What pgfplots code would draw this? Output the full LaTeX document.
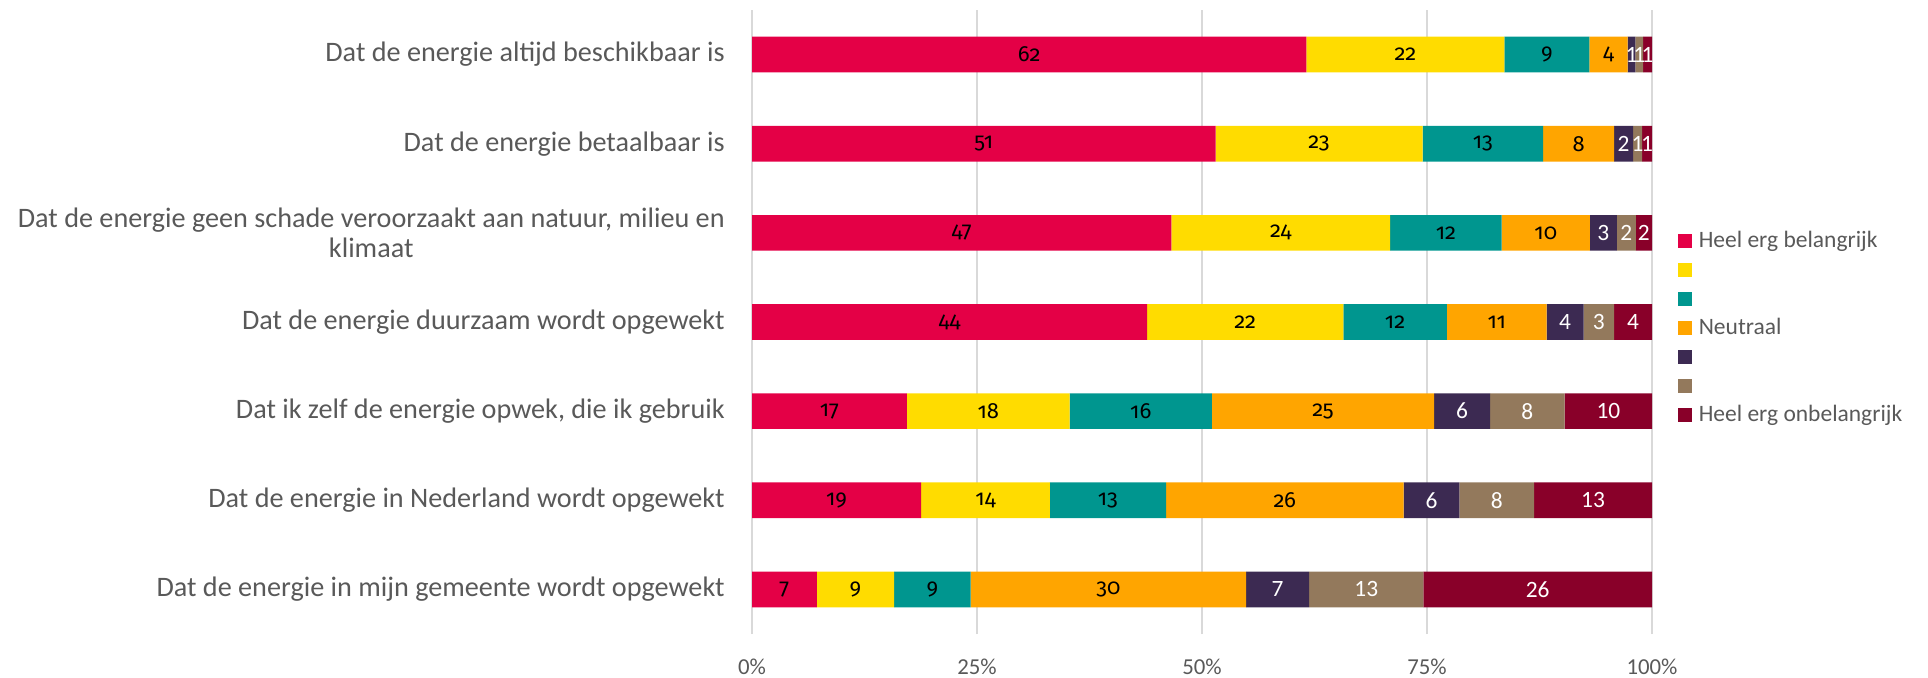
\documentclass[border=0pt]{standalone}
\usepackage{pgfplots}
\pgfplotsset{compat=1.18}
\usepackage{pgfplotstable}
\usepackage{fontspec}
\setmainfont{Carlito}
\newfontfamily\oldfig{Fira Sans}[Numbers=OldStyle]
\definecolor{c1}{RGB}{228,0,70}
\definecolor{c2}{RGB}{255,220,0}
\definecolor{c3}{RGB}{0,150,143}
\definecolor{c4}{RGB}{255,165,0}
\definecolor{c5}{RGB}{60,42,82}
\definecolor{c6}{RGB}{147,121,92}
\definecolor{c7}{RGB}{137,0,41}
\definecolor{textgray}{RGB}{89,89,89}
\definecolor{gridgray}{RGB}{217,217,217}
\pgfplotsset{sqleg/.style={legend image code/.code={\fill[##1] (0bp,-3.35bp) rectangle (6.7bp,3.35bp);}}}

% bar segments (percent of respondents), rows bottom to top
\pgfplotstableread{
y  a     b     c     d     e     f     g
0  7.2   8.6   8.5   30.6  7.0   12.7  25.4
1  18.8  14.3  12.9  26.4  6.2   8.3   13.1
2  17.2  18.1  15.8  24.7  6.2   8.3   9.7
3  43.9  21.8  11.5  11.1  4.1   3.4   4.2
4  46.6  24.3  12.4  9.8   3.0   2.1   1.8
5  51.5  23.0  13.4  7.9   2.1   1.0   1.1
6  61.6  22.0  9.45  4.25  0.85  0.85  1.0
}\datatable

% label positions (segment midpoints) and shown values
\pgfplotstableread{
x      y  lab
3.6    0  7
11.5   0  9
20.05  0  9
39.6   0  30
9.4    1  19
25.95  1  14
39.55  1  13
59.2   1  26
8.6    2  17
26.25  2  18
43.2   2  16
63.45  2  25
21.95  3  44
54.8   3  22
71.45  3  12
82.75  3  11
23.3   4  47
58.75  4  24
77.1   4  12
88.2   4  10
25.75  5  51
63.0   5  23
81.2   5  13
91.85  5  8
30.8   6  62
72.6   6  22
88.325 6  9
95.175 6  4
}\darklabels
\pgfplotstableread{
x      y  lab
58.4   0  7
68.25  0  13
87.3   0  26
75.5   1  6
82.75  1  8
93.45  1  13
78.9   2  6
86.15  2  8
95.15  2  10
90.35  3  4
94.1   3  3
97.9   3  4
94.6   4  3
97.15  4  2
99.1   4  2
96.85  5  2
98.4   5  1
99.45  5  1
97.725 6  1
98.575 6  1
99.5   6  1
}\lightlabels

\begin{document}
\begin{tikzpicture}
\path[use as bounding box] (0,0) rectangle (964bp,339bp);
\begin{axis}[
  at={(376bp,22bp)}, anchor=south west,
  scale only axis, width=450bp, height=312bp,
  xbar stacked, bar width=17.85bp,
  xmin=0, xmax=100, ymin=-0.5, ymax=6.5,
  xtick={0,25,50,75,100},
  xticklabels={0\%,25\%,50\%,75\%,100\%},
  ytick={0,1,2,3,4,5,6},
  yticklabels={
    Dat de energie in mijn gemeente wordt opgewekt,
    Dat de energie in Nederland wordt opgewekt,
    {Dat ik zelf de energie opwek, die ik gebruik},
    Dat de energie duurzaam wordt opgewekt,
    {Dat de energie geen schade veroorzaakt aan natuur, milieu en\\klimaat},
    Dat de energie betaalbaar is,
    Dat de energie altijd beschikbaar is},
  xmajorgrids, grid style={draw=gridgray, line width=1bp},
  axis line style={draw=none}, major tick length=0pt, tick style={draw=none},
  xticklabel style={font=\fontsize{11.4bp}{13bp}\selectfont, text=textgray, anchor=base, yshift=-20bp},
  yticklabel style={font=\fontsize{14.1bp}{14.8bp}\selectfont, text=textgray, align=center, anchor=east, inner xsep=0pt, xshift=-13.5bp},
  legend style={at={(1,0.5)}, anchor=west, xshift=13bp, yshift=-3bp, draw=none, fill=none,
    inner sep=0pt, row sep=0pt, font=\fontsize{11.75bp}{14bp}\selectfont, text=textgray,
    nodes={inner sep=0pt, minimum height=14.5bp, text height=8.5bp, text depth=2.5bp},
    /tikz/every odd column/.append style={column sep=3.5bp}},
  legend cell align=left,
]
\addplot[fill=c1, draw=none, sqleg] table[x=a, y=y] {\datatable};
\addlegendentry{Heel erg belangrijk}
\addplot[fill=c2, draw=none, sqleg] table[x=b, y=y] {\datatable};
\addlegendentry{\mbox{}}
\addplot[fill=c3, draw=none, sqleg] table[x=c, y=y] {\datatable};
\addlegendentry{\mbox{}}
\addplot[fill=c4, draw=none, sqleg] table[x=d, y=y] {\datatable};
\addlegendentry{Neutraal}
\addplot[fill=c5, draw=none, sqleg] table[x=e, y=y] {\datatable};
\addlegendentry{\mbox{}}
\addplot[fill=c6, draw=none, sqleg] table[x=f, y=y] {\datatable};
\addlegendentry{\mbox{}}
\addplot[fill=c7, draw=none, sqleg] table[x=g, y=y] {\datatable};
\addlegendentry{Heel erg onbelangrijk}
\end{axis}
\begin{axis}[
  at={(376bp,22bp)}, anchor=south west,
  scale only axis, width=450bp, height=312bp,
  xmin=0, xmax=100, ymin=-0.5, ymax=6.5, hide axis,
]
\addplot[draw=none, mark=none, nodes near coords, point meta=explicit symbolic,
  nodes near coords style={anchor=center, inner sep=0pt, text=black, font=\oldfig\fontsize{11bp}{13bp}\selectfont}]
  table[x=x, y=y, meta=lab] {\darklabels};
\addplot[draw=none, mark=none, nodes near coords, point meta=explicit symbolic,
  nodes near coords style={anchor=center, inner sep=0pt, text=white, font=\fontsize{11.7bp}{13bp}\selectfont}]
  table[x=x, y=y, meta=lab] {\lightlabels};
\end{axis}
\end{tikzpicture}
\end{document}
